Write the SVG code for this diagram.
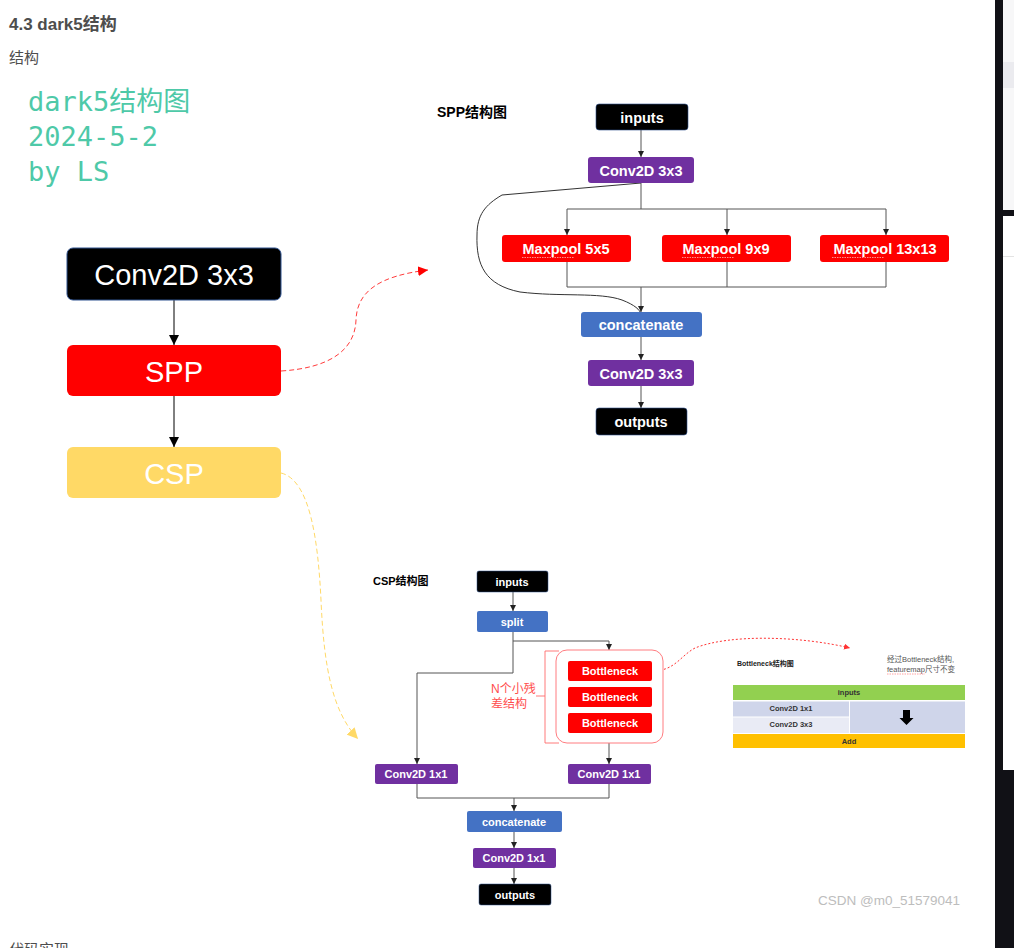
<svg xmlns="http://www.w3.org/2000/svg" width="1014" height="948" viewBox="0 0 1014 948">
<style>
.sans{font-family:"Liberation Sans","Noto Sans CJK SC",sans-serif}
.wt{fill:#fff;text-anchor:middle;font-family:"Liberation Sans","Noto Sans CJK SC",sans-serif}
.big{font-size:29px}
.mid{font-size:14.5px;font-weight:bold}
.sm{font-size:11px;font-weight:bold}
.ln{fill:none;stroke:#555;stroke-width:1}
.mono{font-family:"DejaVu Sans Mono","Noto Sans CJK SC",monospace;font-size:27px;fill:#4ec9a8}
.tb{font-family:"Liberation Sans",sans-serif;font-size:7.5px;font-weight:bold;fill:#333;text-anchor:middle}
</style>
<defs>
<marker id="ah" viewBox="0 0 10 10" refX="10" refY="5" markerWidth="6" markerHeight="7" markerUnits="userSpaceOnUse" orient="auto"><path d="M0,0 L10,5 L0,10 z" fill="#222"/></marker>
<marker id="ahb" viewBox="0 0 10 10" refX="10" refY="5" markerWidth="10" markerHeight="10" markerUnits="userSpaceOnUse" orient="auto"><path d="M0,0 L10,5 L0,10 z" fill="#000"/></marker>
<marker id="ahr" viewBox="0 0 10 10" refX="10" refY="5" markerWidth="10" markerHeight="10" markerUnits="userSpaceOnUse" orient="auto"><path d="M0,0 L10,5 L0,10 z" fill="#ff0000"/></marker>
<marker id="ahy" viewBox="0 0 10 10" refX="10" refY="5" markerWidth="11" markerHeight="11" markerUnits="userSpaceOnUse" orient="auto"><path d="M0,0 L10,5 L0,10 z" fill="#ffd966"/></marker>
<marker id="ahr2" viewBox="0 0 10 10" refX="10" refY="5" markerWidth="6" markerHeight="6" markerUnits="userSpaceOnUse" orient="auto"><path d="M0,0 L10,5 L0,10 z" fill="#ff3333"/></marker>
</defs>
<rect width="1014" height="948" fill="#fff"/>

<!-- page texts -->
<text x="9" y="30" class="sans" font-size="17" font-weight="bold" fill="#4d4d4d">4.3 dark5结构</text>
<text x="9" y="63" class="sans" font-size="15" fill="#4d4d4d">结构</text>
<text x="28" y="111" class="mono">dark5结构图</text>
<text x="28" y="146" class="mono">2024-5-2</text>
<text x="28" y="181" class="mono">by LS</text>
<text x="9" y="955" class="sans" font-size="15" fill="#4d4d4d">代码实现</text>
<text x="818" y="905" class="sans" font-size="13.5" fill="#bdbdbd">CSDN @m0_51579041</text>

<!-- right edge chrome -->
<rect x="995" y="0" width="19" height="948" fill="#111116"/>
<rect x="1003" y="0" width="11" height="210" fill="#f7f7f8"/>
<rect x="1003" y="62" width="11" height="26" fill="#ebebef"/>
<rect x="1003" y="216" width="11" height="554" fill="#fff"/>
<rect x="1003" y="256" width="11" height="1" fill="#e3e3e3"/>

<!-- connectors -->
<g id="connectors">
<path d="M174,300 V345" stroke="#000" fill="none" marker-end="url(#ahb)"/>
<path d="M174,396 V447" stroke="#000" fill="none" marker-end="url(#ahb)"/>
<path d="M281,371 C330,368 355,350 356,320 C357,292 378,276 428,270" fill="none" stroke="#ff3b3b" stroke-width="1" stroke-dasharray="5,3" marker-end="url(#ahr)"/>
<path d="M281,473 C310,480 318,540 321,600 C324,670 333,712 358,739" fill="none" stroke="#ffd966" stroke-width="1" stroke-dasharray="5,3" marker-end="url(#ahy)"/>

<path class="ln" d="M641,130 V157" marker-end="url(#ah)"/>
<path class="ln" d="M641,183 V209 M567,209 H886"/>
<path class="ln" d="M567,209 V235" marker-end="url(#ah)"/>
<path class="ln" d="M727,209 V235" marker-end="url(#ah)"/>
<path class="ln" d="M886,209 V235" marker-end="url(#ah)"/>
<path class="ln" d="M567,262 V287 M727,262 V287 M886,262 V287 M567,287 H886"/>
<path class="ln" d="M641,287 V312" marker-end="url(#ah)"/>
<path d="M641,183 L502,195 C485,205 477,215 477,235 C476,265 485,285 520,292 C560,297 600,292 622,300 C635,305 640,310 641,314" fill="none" stroke="#333" stroke-width="1"/>
<path class="ln" d="M641,337 V360" marker-end="url(#ah)"/>
<path class="ln" d="M641,386 V408" marker-end="url(#ah)"/>

<path class="ln" d="M513,592 V611" marker-end="url(#ah)"/>
<path class="ln" d="M513,632 V673 H417 V764" marker-end="url(#ah)"/>
<path class="ln" d="M513,641 H609 V650" marker-end="url(#ah)"/>
<path class="ln" d="M609,743 V764" marker-end="url(#ah)"/>
<path class="ln" d="M417,784 V798 H609 V784"/>
<path class="ln" d="M514,798 V811" marker-end="url(#ah)"/>
<path class="ln" d="M514,832 V848" marker-end="url(#ah)"/>
<path class="ln" d="M514,868 V884" marker-end="url(#ah)"/>
<path d="M652,671 C675,671 680,656 695,648 C730,634 800,636 850,648" fill="none" stroke="#ff3333" stroke-width="1" stroke-dasharray="2,2" marker-end="url(#ahr2)"/>
</g>

<!-- left main flow -->
<g id="n-conv">
<rect x="67" y="248" width="214" height="52" rx="6" fill="#000" stroke="#2f528f" stroke-width="1"/>
<text x="174" y="285" class="wt big">Conv2D 3x3</text>
</g>
<g id="n-spp">
<rect x="67" y="345" width="214" height="51" rx="6" fill="#ff0000"/>
<text x="174" y="382" class="wt big">SPP</text>
</g>
<g id="n-csp">
<rect x="67" y="447" width="214" height="51" rx="6" fill="#ffd966"/>
<text x="174" y="484" class="wt big">CSP</text>
</g>

<!-- SPP diagram -->
<g id="spp-title"><text x="437" y="117" class="sans" font-size="14" font-weight="bold" fill="#000">SPP结构图</text></g>
<g id="spp-inputs">
<rect x="596" y="104" width="92" height="26" rx="3" fill="#000" stroke="#2f528f" stroke-width="0.6"/>
<text x="642" y="123" class="wt mid">inputs</text>
</g>
<g id="spp-conv1">
<rect x="588" y="157" width="106" height="26" rx="3" fill="#7030a0"/>
<text x="641" y="176" class="wt mid">Conv2D 3x3</text>
</g>
<g id="spp-mp5">
<rect x="502" y="235" width="129" height="27" rx="3" fill="#ff0000"/>
<text x="566" y="254" class="wt mid">Maxpool 5x5</text>
<path d="M522,257.5 H574" stroke="#ffb3b3" stroke-width="0.8" stroke-dasharray="1.5,1"/>
</g>
<g id="spp-mp9">
<rect x="662" y="235" width="129" height="27" rx="3" fill="#ff0000"/>
<text x="726" y="254" class="wt mid">Maxpool 9x9</text>
<path d="M682,257.5 H734" stroke="#ffb3b3" stroke-width="0.8" stroke-dasharray="1.5,1"/>
</g>
<g id="spp-mp13">
<rect x="820" y="235" width="129" height="27" rx="3" fill="#ff0000"/>
<text x="885" y="254" class="wt mid">Maxpool 13x13</text>
<path d="M832,257.5 H884" stroke="#ffb3b3" stroke-width="0.8" stroke-dasharray="1.5,1"/>
</g>
<g id="spp-concat">
<rect x="581" y="312" width="121" height="25" rx="3" fill="#4472c4"/>
<text x="641" y="330" class="wt mid">concatenate</text>
</g>
<g id="spp-conv2">
<rect x="588" y="360" width="106" height="26" rx="3" fill="#7030a0"/>
<text x="641" y="379" class="wt mid">Conv2D 3x3</text>
</g>
<g id="spp-outputs">
<rect x="596" y="408" width="91" height="27" rx="3" fill="#000" stroke="#2f528f" stroke-width="0.6"/>
<text x="641" y="427" class="wt mid">outputs</text>
</g>

<!-- CSP diagram -->
<g id="csp-title"><text x="373" y="585" class="sans" font-size="11" font-weight="bold" fill="#000">CSP结构图</text></g>
<g id="csp-inputs">
<rect x="477" y="571" width="71" height="21" rx="2" fill="#000" stroke="#2f528f" stroke-width="0.5"/>
<text x="512" y="586" class="wt sm">inputs</text>
</g>
<g id="csp-split">
<rect x="477" y="611" width="71" height="21" rx="2" fill="#4472c4"/>
<text x="512" y="626" class="wt sm">split</text>
</g>
<g id="csp-group">
<rect x="556" y="650" width="107" height="93" rx="11" fill="#fff" stroke="#ff7c80" stroke-width="1"/>
<path d="M559,651 H545 V696 H536 M545,696 V743 H559" fill="none" stroke="#ff6b6b" stroke-width="0.9"/>
<text x="491" y="693" class="sans" font-size="12" fill="#ff4d4d">N个小残</text>
<text x="491" y="708" class="sans" font-size="12" fill="#ff4d4d">差结构</text>
</g>
<g id="csp-b1">
<rect x="568" y="661" width="84" height="20" rx="2" fill="#ff0000"/>
<text x="610" y="675" class="wt sm">Bottleneck</text>
</g>
<g id="csp-b2">
<rect x="568" y="687" width="84" height="20" rx="2" fill="#ff0000"/>
<text x="610" y="701" class="wt sm">Bottleneck</text>
</g>
<g id="csp-b3">
<rect x="568" y="713" width="84" height="20" rx="2" fill="#ff0000"/>
<text x="610" y="727" class="wt sm">Bottleneck</text>
</g>
<g id="csp-convL">
<rect x="375" y="764" width="83" height="20" rx="2" fill="#7030a0"/>
<text x="416" y="778" class="wt sm">Conv2D 1x1</text>
</g>
<g id="csp-convR">
<rect x="568" y="764" width="83" height="20" rx="2" fill="#7030a0"/>
<text x="609" y="778" class="wt sm">Conv2D 1x1</text>
</g>
<g id="csp-concat">
<rect x="467" y="811" width="95" height="21" rx="2" fill="#4472c4"/>
<text x="514" y="826" class="wt sm">concatenate</text>
</g>
<g id="csp-conv">
<rect x="473" y="848" width="83" height="20" rx="2" fill="#7030a0"/>
<text x="514" y="862" class="wt sm">Conv2D 1x1</text>
</g>
<g id="csp-outputs">
<rect x="479" y="884" width="72" height="21" rx="2" fill="#000" stroke="#2f528f" stroke-width="0.5"/>
<text x="515" y="899" class="wt sm">outputs</text>
</g>

<!-- Bottleneck diagram -->
<g id="bn">
<text x="737" y="666" class="sans" font-size="7" font-weight="bold" fill="#222">Bottleneck结构图</text>
<text x="887" y="662" class="sans" font-size="7.5" fill="#555">经过Bottleneck结构,</text>
<text x="887" y="672" class="sans" font-size="7.5" fill="#555">featuremap尺寸不变</text>
<path d="M887,674 H925" stroke="#ff6666" stroke-width="0.6" stroke-dasharray="1.5,1"/>
<rect x="733" y="685" width="232" height="15" fill="#92d050"/>
<text x="849" y="695" class="tb">inputs</text>
<rect x="733" y="701.5" width="116" height="15" fill="#cfd5ea"/>
<text x="791" y="711" class="tb">Conv2D 1x1</text>
<rect x="733" y="717.5" width="116" height="15.5" fill="#e9ebf5"/>
<text x="791" y="727" class="tb">Conv2D 3x3</text>
<rect x="850" y="701.5" width="115" height="31.5" fill="#cfd5ea"/>
<path d="M903,710 H910 V718 H913.5 L906.5,725 L899.5,718 H903 Z" fill="#000"/>
<rect x="733" y="734" width="232" height="14" fill="#ffc000"/>
<text x="849" y="743.5" class="tb">Add</text>
</g>
</svg>
